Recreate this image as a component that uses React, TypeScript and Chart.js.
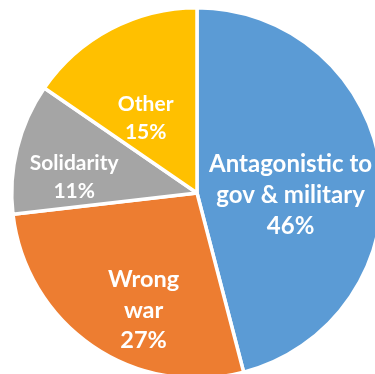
import React, { useEffect, useRef } from "react";
import { Chart, registerables } from "chart.js";

Chart.register(...registerables);

const categories: string[][] = [["Antagonistic to", "gov & military"], ["Wrong", "war"], ["Solidarity"], ["Other"]];
const shares: number[] = [45.9, 27.2, 11.4, 15.4];
const colors: string[] = ["#5B9BD5", "#ED7D31", "#A5A5A5", "#FFC000"];
// label placement: angle (deg, clockwise from top), fraction of radius, font size
const labelAngles: number[] = [90.9, 204.7, 277.7, 325.8];
const labelRadii: number[] = [0.505, 0.69, 0.669, 0.493];
const labelSizes: number[] = [24, 23.5, 21, 21];

const labelPlugin = {
  id: "sliceLabels",
  afterDatasetsDraw(chart: any) {
    const ctx = chart.ctx;
    const meta = chart.getDatasetMeta(0);
    const data = chart.data.datasets[0].data as number[];
    const total = data.reduce((a, b) => a + b, 0);
    ctx.save();
    ctx.fillStyle = "#ffffff";
    ctx.textAlign = "center";
    ctx.textBaseline = "alphabetic";
    meta.data.forEach((arc: any, i: number) => {
      const { x, y, outerRadius } = arc.getProps(["x", "y", "outerRadius"], true);
      const size = labelSizes[i];
      const lineH = size * 1.3;
      const cap = size * 0.72;
      ctx.font = `bold ${size}px Lato`;
      const a = (labelAngles[i] * Math.PI) / 180;
      const r = labelRadii[i] * outerRadius;
      const cx = x + r * Math.sin(a);
      const cy = y - r * Math.cos(a);
      const lines = [...categories[i], `${Math.round((data[i] / total) * 100)}%`];
      const n = lines.length;
      const first = cy - ((n - 1) * lineH - cap) / 2;
      lines.forEach((t, k) => ctx.fillText(t, cx, first + k * lineH));
    });
    ctx.restore();
  },
};

export default function App() {
  const ref = useRef<HTMLCanvasElement | null>(null);
  useEffect(() => {
    if (!ref.current) return;
    const chart = new Chart(ref.current, {
      type: "pie",
      data: {
        labels: categories.map((c) => c.join(" ")),
        datasets: [
          {
            data: shares,
            backgroundColor: colors,
            borderColor: "#ffffff",
            borderWidth: 3.5,
          },
        ],
      },
      options: {
        animation: false,
        responsive: true,
        maintainAspectRatio: false,
        layout: { padding: { left: 10, top: 6, right: 10, bottom: 6 } },
        plugins: { legend: { display: false }, tooltip: { enabled: false } },
      },
      plugins: [labelPlugin],
    });
    return () => chart.destroy();
  }, []);
  return (
    <div style={{ position: "fixed", left: 0, top: 0, width: 375, height: 374, overflow: "hidden", background: "#fff" }}>
      <div style={{ position: "absolute", left: 0, top: 0, width: 394, height: 386 }}>
        <canvas ref={ref} />
      </div>
    </div>
  );
}
